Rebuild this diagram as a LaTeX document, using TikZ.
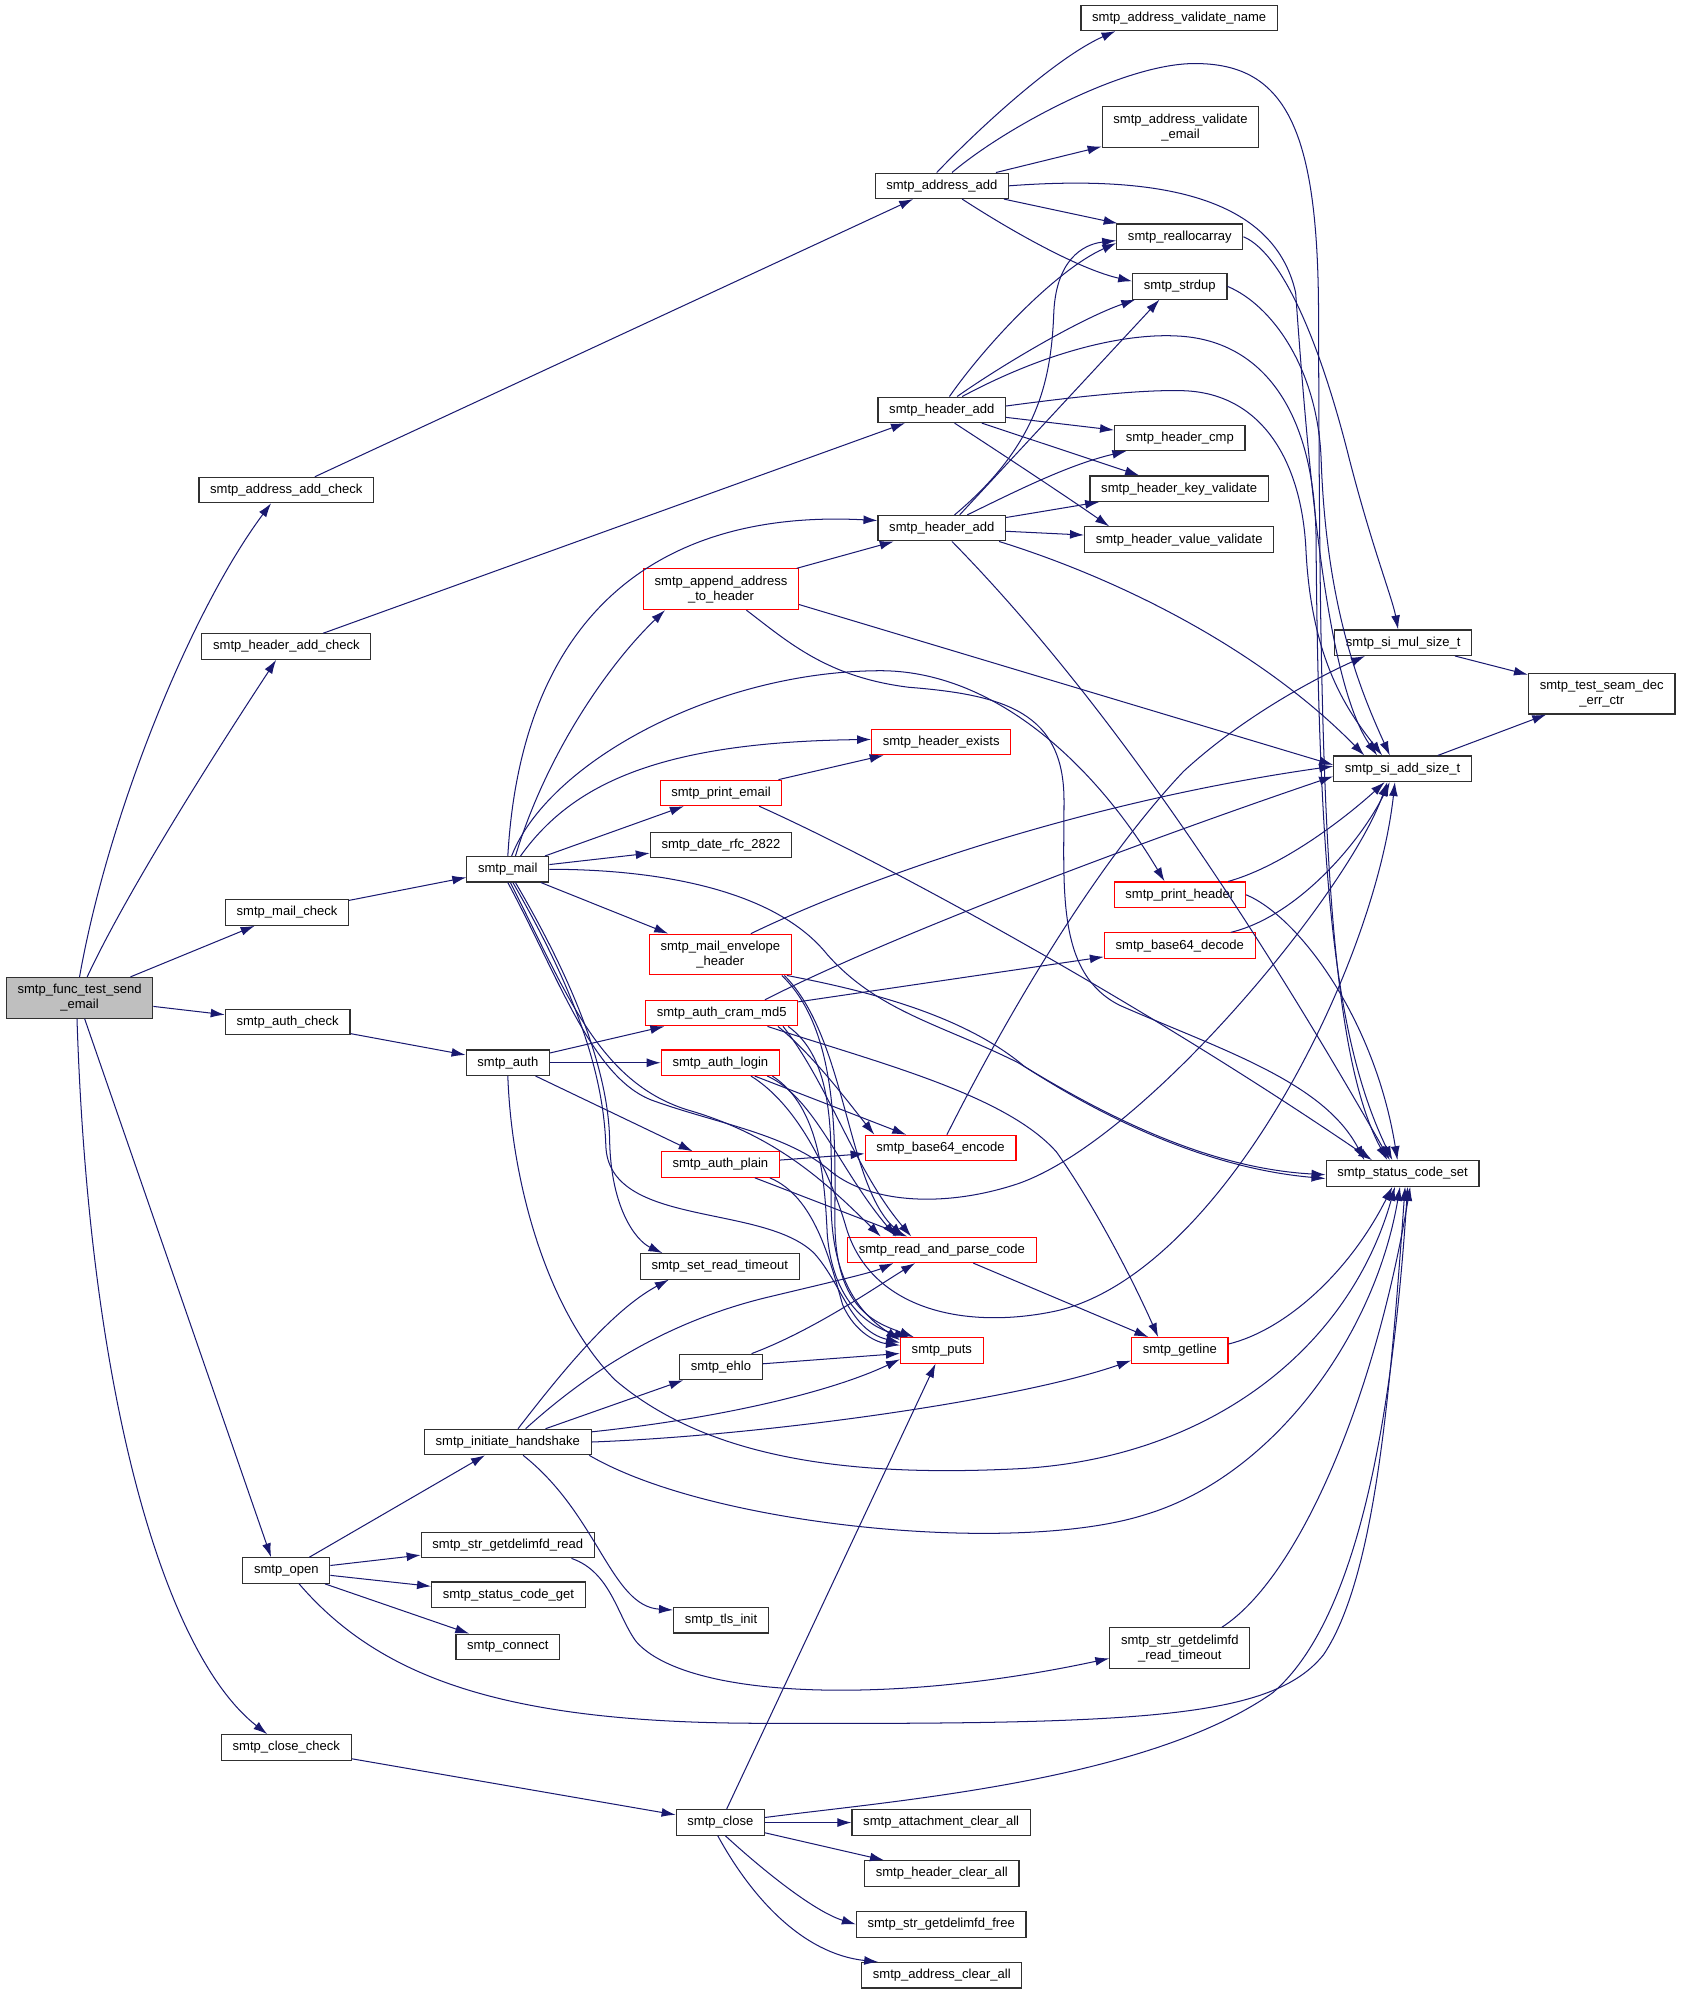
\documentclass[tikz,border=0pt]{standalone}
\usepackage{fontspec}
\setmainfont{Liberation Sans}
\usetikzlibrary{arrows.meta}
\definecolor{callblue}{HTML}{191970}
\definecolor{boxgray}{HTML}{303030}
\definecolor{rootfill}{HTML}{BFBFBF}
\newcommand{\fnnode}[5][]{%
\node[fnbox,#1] (#2) at (#3,#4) {#5};
}
\newcommand{\fnred}[5][]{%
\node[fnbox,draw=red,#1] (#2) at (#3,#4) {#5};
}
\newcommand{\callline}[2]{%
\draw[call] (#1) -- (#2);
}
\begin{document}
\begin{tikzpicture}[x=1pt,y=-1pt,
  fnbox/.style={draw=boxgray,line width=0.9pt,inner xsep=8.8pt,inner ysep=4pt,minimum height=20pt,align=center,font=\fontsize{10.25}{11.8}\selectfont},
  call/.style={draw=callblue,line width=0.8pt,-{Latex[length=11pt,width=7pt]}}]
\useasboundingbox (0,0) rectangle (1320,1567.5);

\fnnode[fill=rootfill,minimum height=32pt]{root}{62.5}{784}{smtp\_func\_test\_send\\\_email}
\fnnode{addchk}{225}{385}{smtp\_address\_add\_check}
\fnnode{hdrchk}{225}{508}{smtp\_header\_add\_check}
\fnnode{mailchk}{225.5}{717}{smtp\_mail\_check}
\fnnode{authchk}{226}{803}{smtp\_auth\_check}
\fnnode{open}{225}{1234}{smtp\_open}
\fnnode{closechk}{225}{1373}{smtp\_close\_check}

\fnnode{mail}{399}{683}{smtp\_mail}
\fnnode{auth}{399}{835}{smtp\_auth}
\fnnode{handshake}{399}{1133}{smtp\_initiate\_handshake}
\fnnode{gdread}{399}{1214}{smtp\_str\_getdelimfd\_read}
\fnnode{codeget}{399.5}{1253}{smtp\_status\_code\_get}
\fnnode{connect}{399}{1294}{smtp\_connect}

\fnred[minimum height=32pt]{append}{566.5}{463}{smtp\_append\_address\\\_to\_header}
\fnred{printemail}{566.5}{623}{smtp\_print\_email}
\fnnode{date}{566.5}{664}{smtp\_date\_rfc\_2822}
\fnred[minimum height=32pt]{envelope}{566}{750}{smtp\_mail\_envelope\\\_header}
\fnred{cram}{567}{796}{smtp\_auth\_cram\_md5}
\fnred{login}{566}{835}{smtp\_auth\_login}
\fnred{plain}{566}{915}{smtp\_auth\_plain}
\fnnode{readto}{565.5}{995}{smtp\_set\_read\_timeout}
\fnnode{ehlo}{566.5}{1074}{smtp\_ehlo}
\fnnode{tls}{566.5}{1273}{smtp\_tls\_init}
\fnnode{close}{566}{1432}{smtp\_close}

\fnnode{addadd}{740}{146}{smtp\_address\_add}
\fnnode{hdradd}{740}{322}{smtp\_header\_add}
\fnnode{hdraddb}{740}{415}{smtp\_header\_add}
\fnred{hdrexist}{739.5}{583}{smtp\_header\_exists}
\fnred{b64enc}{739}{902}{smtp\_base64\_encode}
\fnred{parse}{740}{982}{smtp\_read\_and\_parse\_code}
\fnred{puts}{740}{1061}{smtp\_puts}
\fnnode{attclr}{739.5}{1432}{smtp\_attachment\_clear\_all}
\fnnode{hdrclr}{740}{1472}{smtp\_header\_clear\_all}
\fnnode{gdfree}{739.5}{1512}{smtp\_str\_getdelimfd\_free}
\fnnode{addclr}{740}{1552}{smtp\_address\_clear\_all}

\fnnode{valname}{926.5}{14}{smtp\_address\_validate\_name}
\fnnode[minimum height=32pt]{valemail}{927.5}{100}{smtp\_address\_validate\\\_email}
\fnnode{realloc}{927}{186}{smtp\_reallocarray}
\fnnode{strdup}{927}{225}{smtp\_strdup}
\fnnode{hdrcmp}{927}{344}{smtp\_header\_cmp}
\fnnode{keyval}{926.5}{384}{smtp\_header\_key\_validate}
\fnnode{valval}{926.5}{424}{smtp\_header\_value\_validate}
\fnred{printhdr}{927}{703}{smtp\_print\_header}
\fnred{b64dec}{927}{743}{smtp\_base64\_decode}
\fnred{getline}{927}{1061}{smtp\_getline}
\fnnode[minimum height=32pt]{gdtimeout}{927}{1295}{smtp\_str\_getdelimfd\\\_read\_timeout}

\fnnode{mul}{1102.5}{505}{smtp\_si\_mul\_size\_t}
\fnnode{addsize}{1102}{604}{smtp\_si\_add\_size\_t}
\fnnode{status}{1102}{922}{smtp\_status\_code\_set}
\fnnode[minimum height=32pt]{seam}{1258.5}{545}{smtp\_test\_seam\_dec\\\_err\_ctr}

\draw[call] (root.north) .. controls (85,640) and (150,480) .. ([xshift=-12pt]addchk.south);
\draw[call] ([xshift=6pt]root.north) .. controls (100,700) and (170,590) .. ([xshift=-8pt]hdrchk.south);
\callline{root}{mailchk}
\callline{root}{authchk}
\draw[call] ([xshift=4pt]root.south) -- ([xshift=-12pt]open.north);
\draw[call] ([xshift=-2pt]root.south) .. controls (70,1100) and (130,1300) .. ([xshift=-15pt]closechk.north);

\callline{addchk}{addadd}
\callline{hdrchk}{hdradd}
\callline{mailchk}{mail}
\callline{authchk}{auth}
\callline{closechk}{close}

\draw[call] ([xshift=-4pt]addadd.north) .. controls (770,100) and (830,45) .. ([xshift=-50pt]valname.south);
\draw[call] ([xshift=8pt]addadd.north) .. controls (790,100) and (880,52) .. (935,50) .. controls (1010,48) and (1036,100) .. (1036,250) .. controls (1037,600) and (1040,820) .. ([xshift=-12pt]status.north);
\callline{addadd}{valemail}
\callline{addadd}{realloc}
\draw[call] ([xshift=16pt]addadd.south) .. controls (800,185) and (850,212) .. ([yshift=4pt]strdup.west);
\draw[call] (addadd.east) .. controls (900,138) and (1000,150) .. (1018,230) .. controls (1030,400) and (1045,540) .. ([xshift=-20pt]addsize.north);

\draw[call] ([xshift=6pt]hdradd.north) .. controls (775,270) and (830,212) .. ([yshift=-5pt]realloc.west);
\draw[call] ([xshift=12pt]hdradd.north) .. controls (790,285) and (850,250) .. ([xshift=-35pt]strdup.south);
\draw[call] ([xshift=16pt]hdradd.north) .. controls (830,272) and (890,262) .. (925,264) .. controls (990,267) and (1032,320) .. (1034,420) .. controls (1036,700) and (1050,820) .. ([xshift=-8pt]status.north);
\draw[call] ([yshift=3pt]hdradd.east) .. controls (850,311) and (900,306) .. (930,307) .. controls (990,309) and (1022,360) .. (1026,430) .. controls (1030,520) and (1060,560) .. ([xshift=-16pt]addsize.north);
\callline{hdradd}{hdrcmp}
\callline{hdradd}{keyval}
\draw[call] ([xshift=10pt]hdradd.south) .. controls (800,365) and (845,395) .. ([xshift=-55pt]valval.north);

\draw[call] ([xshift=10pt]hdraddb.north) .. controls (815,350) and (826,300) .. (828,245) .. controls (830,205) and (850,192) .. ([yshift=-3pt]realloc.west);
\draw[call] ([xshift=14pt]hdraddb.north) -- ([xshift=-16pt]strdup.south);
\draw[call] ([xshift=20pt]hdraddb.north) .. controls (800,385) and (840,365) .. ([xshift=-42pt]hdrcmp.south);
\callline{hdraddb}{keyval}
\callline{hdraddb}{valval}
\draw[call] ([xshift=8pt]hdraddb.south) .. controls (880,560) and (1000,750) .. ([xshift=-10pt]status.north);
\draw[call] ([xshift=45pt]hdraddb.south) .. controls (880,455) and (990,510) .. ([xshift=-30pt]addsize.north);

\callline{append}{hdraddb}
\draw[call] ([yshift=-12pt]append.east) -- ([yshift=3pt]addsize.west);
\draw[call] ([xshift=20pt]append.south) .. controls (620,505) and (650,532) .. (714,540) .. controls (790,546) and (836,560) .. (836,629) .. controls (836,700) and (830,765) .. (880,790) .. controls (960,825) and (1040,850) .. ([xshift=-30pt]status.north);

\draw[call] (mail.north) .. controls (410,480) and (520,400) .. ([yshift=6pt]hdraddb.west);
\draw[call] ([xshift=6pt]mail.north) .. controls (430,590) and (480,520) .. ([xshift=-44pt]append.south);
\draw[call] ([xshift=10pt]mail.north) .. controls (450,615) and (520,583) .. ([yshift=2pt]hdrexist.west);
\draw[call] ([xshift=3pt]mail.north) .. controls (430,600) and (560,528) .. (690,527) .. controls (780,526) and (860,600) .. ([xshift=-12pt]printhdr.north);
\callline{mail}{printemail}
\callline{mail}{date}
\callline{mail}{envelope}
\draw[call] (mail.east) .. controls (520,683) and (610,700) .. (650,750) .. controls (690,795) and (740,805) .. (800,835) .. controls (870,878) and (950,918) .. ([yshift=-1pt]status.west);
\draw[call] ([xshift=6pt]mail.south) .. controls (450,770) and (478,840) .. (479,896) .. controls (480,950) and (500,975) .. ([xshift=-45pt]readto.north);
\draw[call] ([xshift=4pt]mail.south) .. controls (450,775) and (474,840) .. (476,900) .. controls (478,965) and (600,945) .. (640,985) .. controls (662,1010) and (668,1045) .. ([yshift=6pt]puts.west);
\draw[call] ([xshift=2pt]mail.south) .. controls (445,780) and (470,850) .. (540,872) .. controls (610,892) and (650,930) .. ([xshift=-48pt]parse.north);
\draw[call] (mail.south) .. controls (440,770) and (465,845) .. (511,864) .. controls (560,882) and (615,890) .. (650,918) .. controls (680,945) and (740,950) .. (800,930) .. controls (900,895) and (1060,700) .. ([xshift=-12pt]addsize.south);

\callline{auth}{cram}
\callline{auth}{login}
\callline{auth}{plain}
\draw[call] (auth.south) .. controls (402,930) and (430,1030) .. (483,1084) .. controls (560,1150) and (680,1160) .. (800,1154) .. controls (950,1146) and (1060,1060) .. ([xshift=-6pt]status.south);

\callline{cram}{b64dec}
\draw[call] ([xshift=34pt]cram.north) .. controls (700,735) and (900,660) .. ([yshift=-6pt]addsize.west);
\draw[call] ([xshift=-16pt]cram.south east) .. controls (640,830) and (668,868) .. ([xshift=-52pt]b64enc.north);
\draw[call] ([xshift=-12pt]cram.south east) .. controls (650,850) and (672,920) .. ([xshift=-24pt]parse.north);
\draw[call] ([xshift=-8pt]cram.south east) .. controls (652,830) and (654,880) .. (653,940) .. controls (652,1010) and (680,1035) .. ([yshift=8pt]puts.west);
\draw[call] ([xshift=36pt]cram.south) .. controls (690,835) and (790,860) .. (830,905) .. controls (862,950) and (892,1010) .. ([xshift=-17pt]getline.north);

\callline{login}{b64enc}
\draw[call] ([xshift=-10pt]login.south east) .. controls (640,862) and (660,920) .. ([xshift=-36pt]parse.north);
\draw[call] ([xshift=-6pt]login.south east) .. controls (645,870) and (648,930) .. (650,970) .. controls (655,1030) and (690,1045) .. ([xshift=-26pt]puts.north);
\draw[call] ([xshift=24pt]login.south) .. controls (630,870) and (655,930) .. (665,965) .. controls (685,1030) and (760,1045) .. (830,1030) .. controls (960,1000) and (1080,760) .. ([xshift=-6pt]addsize.south);

\callline{plain}{b64enc}
\callline{plain}{parse}
\draw[call] ([xshift=-8pt]plain.south east) .. controls (640,940) and (652,990) .. (662,1025) .. controls (672,1048) and (690,1055) .. ([yshift=4pt]puts.west);

\draw[call] ([xshift=24pt]envelope.north) .. controls (680,690) and (850,630) .. ([yshift=2pt]addsize.west);
\draw[call] ([xshift=-4pt]envelope.south east) .. controls (690,780) and (760,800) .. (805,838) .. controls (870,880) and (950,918) .. ([yshift=-4pt]status.west);
\draw[call] ([xshift=-6pt]envelope.south east) .. controls (665,815) and (665,930) .. ([xshift=-30pt]parse.north);
\draw[call] ([xshift=-8pt]envelope.south east) .. controls (660,810) and (656,900) .. (656,960) .. controls (656,1030) and (690,1040) .. ([xshift=-22pt]puts.north);

\callline{printemail}{hdrexist}
\draw[call] ([xshift=30pt]printemail.south) .. controls (700,680) and (900,790) .. ([xshift=-24pt]status.north);

\draw[call] ([xshift=38pt]printhdr.north) .. controls (1010,680) and (1060,640) .. ([xshift=-14pt]addsize.south);
\draw[call] (printhdr.east) .. controls (1020,720) and (1080,800) .. ([xshift=-4pt]status.north);
\draw[call] ([xshift=40pt]b64dec.north) .. controls (1020,720) and (1070,660) .. ([xshift=-10pt]addsize.south);
\draw[call] ([xshift=5pt]b64enc.north) .. controls (790,800) and (860,680) .. (930,606) .. controls (980,560) and (1040,530) .. ([xshift=-30pt]mul.south);
\draw[call] (realloc.east) .. controls (1010,200) and (1040,280) .. (1060,360) .. controls (1078,430) and (1094,470) .. ([xshift=-4pt]mul.north);
\draw[call] (strdup.east) .. controls (1000,240) and (1035,290) .. (1038,360) .. controls (1042,480) and (1070,545) .. ([xshift=-10pt]addsize.north);
\callline{parse}{getline}
\draw[call] ([yshift=5pt]getline.east) .. controls (1010,1045) and (1060,1000) .. ([xshift=-8pt]status.south);

\draw[call] ([xshift=8pt]handshake.north) .. controls (440,1080) and (480,1030) .. ([xshift=-40pt]readto.south);
\draw[call] ([xshift=14pt]handshake.north) .. controls (460,1080) and (520,1040) .. (600,1020) .. controls (650,1008) and (685,1000) .. ([xshift=-38pt]parse.south);
\callline{handshake}{ehlo}
\draw[call] ([yshift=8pt]handshake.east) .. controls (560,1115) and (650,1095) .. ([yshift=-7pt]puts.west);
\draw[call] (handshake.east) .. controls (600,1128) and (800,1100) .. ([yshift=-8pt]getline.west);
\draw[call] ([xshift=-2pt]handshake.south east) .. controls (560,1200) and (800,1222) .. (900,1190) .. controls (1000,1160) and (1080,1050) .. ([xshift=-2pt]status.south);
\draw[call] ([xshift=12pt]handshake.south) .. controls (470,1190) and (480,1262) .. ([yshift=8pt]tls.west);
\draw[call] ([xshift=24pt]ehlo.north) .. controls (640,1045) and (690,1010) .. ([xshift=-21pt]parse.south);
\callline{ehlo}{puts}

\callline{open}{handshake}
\callline{open}{gdread}
\callline{open}{codeget}
\callline{open}{connect}
\draw[call] ([xshift=10pt]open.south) .. controls (300,1320) and (400,1354) .. (600,1354) .. controls (900,1355) and (1000,1350) .. (1040,1300) .. controls (1080,1240) and (1092,1100) .. ([xshift=2pt]status.south);
\draw[call] ([xshift=50pt]gdread.south) .. controls (480,1235) and (485,1270) .. (500,1290) .. controls (540,1335) and (700,1340) .. ([yshift=-8pt]gdtimeout.west);
\draw[call] ([xshift=33pt]gdtimeout.north) .. controls (1020,1240) and (1080,1100) .. ([xshift=6pt]status.south);

\callline{close}{puts}
\callline{close}{attclr}
\callline{close}{hdrclr}
\draw[call] ([xshift=4pt]close.south) .. controls (600,1470) and (640,1502) .. (gdfree.west);
\draw[call] ([xshift=-2pt]close.south) .. controls (590,1490) and (630,1535) .. ([xshift=-50pt]addclr.north);
\draw[call] ([yshift=4pt]close.east) .. controls (700,1415) and (900,1400) .. (1000,1330) .. controls (1070,1270) and (1095,1100) .. ([xshift=4pt]status.south);

\callline{mul}{seam}
\callline{addsize}{seam}
\end{tikzpicture}
\end{document}
